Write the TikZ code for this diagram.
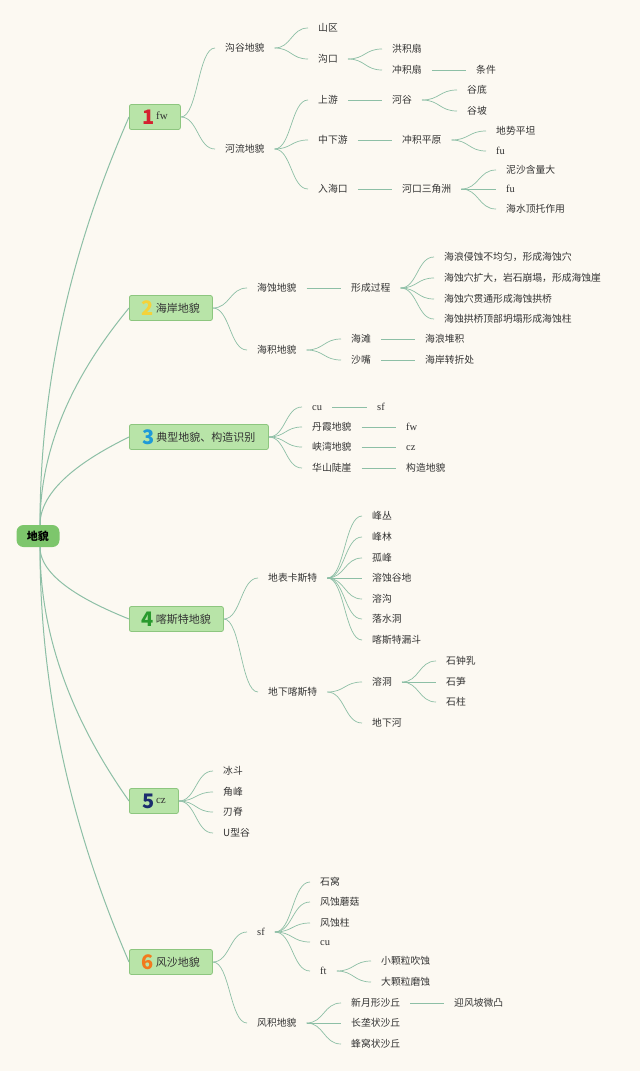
\documentclass[tikz,border=0pt]{standalone}
\usepackage{fontspec}
\setmainfont{Liberation Serif}
\newfontfamily\cjk{Noto Sans CJK SC}
\usetikzlibrary{calc}
\definecolor{bg}{HTML}{FCF9F2}
\definecolor{lc}{HTML}{8DBFA6}
\definecolor{tc}{HTML}{333333}
\definecolor{boxf}{HTML}{B8E4A8}
\definecolor{boxd}{HTML}{8DC67F}
\definecolor{rootf}{HTML}{7DC66C}
\definecolor{n1}{HTML}{D42230}
\definecolor{n2}{HTML}{F4D23A}
\definecolor{n3}{HTML}{1E9AD8}
\definecolor{n4}{HTML}{2A9A2E}
\definecolor{n5}{HTML}{1B2D6E}
\definecolor{n6}{HTML}{F27A1E}
\newcommand\nm[2]{{\cjk\bfseries\fontsize{20}{20}\selectfont\color{#1}#2}}
\newcommand\bt[1]{\raisebox{2.5pt}{#1}}
\newcommand\bl[1]{\raisebox{5pt}{\fontsize{11}{12}\selectfont\rmfamily #1}}
\newcommand\lk[2]{\draw[ln] let \p1=(#1.east), \p2=(#2.west), \n1={0.5*(\x2-\x1)} in (\p1) .. controls ({\x1+\n1},\y1) and ({\x2-\n1},\y2) .. (\p2);}
\newcommand\rl[2]{\draw[rln] let \p1=(#1), \p2=(#2.west) in (\p1) .. controls (\x1,{\y1+0.45*(\y2-\y1)}) and ({\x2-0.4*(\x2-\x1)},{\y2-0.2*(\y2-\y1)}) .. (\p2);}
\begin{document}
\begin{tikzpicture}[x=1pt,y=-1pt,
  t/.style={font=\cjk\fontsize{9.8}{12}\selectfont, text=tc, inner xsep=10pt, inner ysep=1pt, anchor=west, text height=8pt, text depth=0.4pt},
  lt/.style={t, font=\fontsize{10.5}{12}\selectfont},
  box/.style={draw=boxd, fill=boxf, line width=0.8pt, rounded corners=2pt, minimum height=25pt, inner xsep=0pt, inner ysep=0pt, anchor=west, font=\cjk\fontsize{11}{13}\selectfont, text=tc},
  root/.style={fill=rootf, rounded corners=7pt, minimum width=43pt, minimum height=22pt, inner sep=0pt, font=\cjk\bfseries\fontsize{11}{13}\selectfont, text=black},
  ln/.style={draw=lc, line width=0.7pt},
  rln/.style={draw=lc, line width=1pt}]
\useasboundingbox (0,0) rectangle (640,1071);
\fill[bg] (0,0) rectangle (640,1071);

% root and main boxes
\node[root] (R) at (38,536) {地貌};
\node[box, minimum width=51pt] (B1) at (129,117) {\nm{n1}{1}\,\bl{fw}};
\node[box, minimum width=83pt] (B2) at (129,308) {\nm{n2}{2}\,\bt{海岸地貌}};
\node[box, minimum width=139pt] (B3) at (129,437) {\nm{n3}{3}\,\bt{典型地貌、构造识别}};
\node[box, minimum width=94pt] (B4) at (129,619) {\nm{n4}{4}\,\bt{喀斯特地貌}};
\node[box, minimum width=49pt] (B5) at (129,801) {\nm{n5}{5}\,\bl{cz}};
\node[box, minimum width=83pt] (B6) at (129,962) {\nm{n6}{6}\,\bt{风沙地貌}};

\coordinate (Rt) at ([xshift=2pt]R.north);
\coordinate (Rb) at ([xshift=2pt]R.south);
\rl{Rt}{B1}\rl{Rt}{B2}\rl{Rt}{B3}
\rl{Rb}{B4}\rl{Rb}{B5}\rl{Rb}{B6}

% branch 1
\node[t] (a1) at (215,48) {沟谷地貌};
\node[t] (a11) at (308,28) {山区};
\node[t] (a12) at (308,59) {沟口};
\node[t] (a121) at (382,49) {洪积扇};
\node[t] (a122) at (382,70) {冲积扇};
\node[t] (a1221) at (466,70) {条件};
\node[t] (a2) at (215,149) {河流地貌};
\node[t] (a21) at (308,100) {上游};
\node[t] (a211) at (382,100) {河谷};
\node[t] (a2111) at (457,90) {谷底};
\node[t] (a2112) at (457,111) {谷坡};
\node[t] (a22) at (308,140) {中下游};
\node[t] (a221) at (392,140) {冲积平原};
\node[t] (a2211) at (486,131) {地势平坦};
\node[lt] (a2212) at (486,151) {fu};
\node[t] (a23) at (308,189) {入海口};
\node[t] (a231) at (392,189) {河口三角洲};
\node[t] (a2311) at (496,170) {泥沙含量大};
\node[lt] (a2312) at (496,189) {fu};
\node[t] (a2313) at (496,209) {海水顶托作用};
\lk{B1}{a1}\lk{B1}{a2}
\lk{a1}{a11}\lk{a1}{a12}\lk{a12}{a121}\lk{a12}{a122}\lk{a122}{a1221}
\lk{a2}{a21}\lk{a2}{a22}\lk{a2}{a23}
\lk{a21}{a211}\lk{a211}{a2111}\lk{a211}{a2112}
\lk{a22}{a221}\lk{a221}{a2211}\lk{a221}{a2212}
\lk{a23}{a231}\lk{a231}{a2311}\lk{a231}{a2312}\lk{a231}{a2313}

% branch 2
\node[t] (b1) at (247,288) {海蚀地貌};
\node[t] (b11) at (341,288) {形成过程};
\node[t] (b111) at (434,257) {海浪侵蚀不均匀，形成海蚀穴};
\node[t] (b112) at (434,278) {海蚀穴扩大，岩石崩塌，形成海蚀崖};
\node[t] (b113) at (434,299) {海蚀穴贯通形成海蚀拱桥};
\node[t] (b114) at (434,319) {海蚀拱桥顶部坍塌形成海蚀柱};
\node[t] (b2) at (247,350) {海积地貌};
\node[t] (b21) at (341,339) {海滩};
\node[t] (b211) at (415,339) {海浪堆积};
\node[t] (b22) at (341,360) {沙嘴};
\node[t] (b221) at (415,360) {海岸转折处};
\lk{B2}{b1}\lk{B2}{b2}
\lk{b1}{b11}\lk{b11}{b111}\lk{b11}{b112}\lk{b11}{b113}\lk{b11}{b114}
\lk{b2}{b21}\lk{b2}{b22}\lk{b21}{b211}\lk{b22}{b221}

% branch 3
\node[lt] (c1) at (302,407) {cu};
\node[lt] (c11) at (367,407) {sf};
\node[t] (c2) at (302,427) {丹霞地貌};
\node[lt] (c21) at (396,427) {fw};
\node[t] (c3) at (302,447) {峡湾地貌};
\node[lt] (c31) at (396,447) {cz};
\node[t] (c4) at (302,468) {华山陡崖};
\node[t] (c41) at (396,468) {构造地貌};
\lk{B3}{c1}\lk{B3}{c2}\lk{B3}{c3}\lk{B3}{c4}
\lk{c1}{c11}\lk{c2}{c21}\lk{c3}{c31}\lk{c4}{c41}

% branch 4
\node[t] (d1) at (258,578) {地表卡斯特};
\node[t] (d11) at (362,516) {峰丛};
\node[t] (d12) at (362,537) {峰林};
\node[t] (d13) at (362,558) {孤峰};
\node[t] (d14) at (362,578) {溶蚀谷地};
\node[t] (d15) at (362,599) {溶沟};
\node[t] (d16) at (362,619) {落水洞};
\node[t] (d17) at (362,640) {喀斯特漏斗};
\node[t] (d2) at (258,692) {地下喀斯特};
\node[t] (d21) at (362,682) {溶洞};
\node[t] (d211) at (436,661) {石钟乳};
\node[t] (d212) at (436,682) {石笋};
\node[t] (d213) at (436,702) {石柱};
\node[t] (d22) at (362,723) {地下河};
\lk{B4}{d1}\lk{B4}{d2}
\lk{d1}{d11}\lk{d1}{d12}\lk{d1}{d13}\lk{d1}{d14}\lk{d1}{d15}\lk{d1}{d16}\lk{d1}{d17}
\lk{d2}{d21}\lk{d2}{d22}\lk{d21}{d211}\lk{d21}{d212}\lk{d21}{d213}

% branch 5
\node[t] (e1) at (213,771) {冰斗};
\node[t] (e2) at (213,792) {角峰};
\node[t] (e3) at (213,812) {刃脊};
\node[t] (e4) at (213,833) {U型谷};
\lk{B5}{e1}\lk{B5}{e2}\lk{B5}{e3}\lk{B5}{e4}

% branch 6
\node[lt] (f1) at (247,932) {sf};
\node[t] (f11) at (310,882) {石窝};
\node[t] (f12) at (310,902) {风蚀蘑菇};
\node[t] (f13) at (310,923) {风蚀柱};
\node[lt] (f14) at (310,942) {cu};
\node[lt] (f15) at (310,971) {ft};
\node[t] (f151) at (371,961) {小颗粒吹蚀};
\node[t] (f152) at (371,982) {大颗粒磨蚀};
\node[t] (f2) at (247,1023) {风积地貌};
\node[t] (f21) at (341,1003) {新月形沙丘};
\node[t] (f211) at (444,1003) {迎风坡微凸};
\node[t] (f22) at (341,1023) {长垄状沙丘};
\node[t] (f23) at (341,1044) {蜂窝状沙丘};
\lk{B6}{f1}\lk{B6}{f2}
\lk{f1}{f11}\lk{f1}{f12}\lk{f1}{f13}\lk{f1}{f14}\lk{f1}{f15}
\lk{f15}{f151}\lk{f15}{f152}
\lk{f2}{f21}\lk{f2}{f22}\lk{f2}{f23}\lk{f21}{f211}
\end{tikzpicture}
\end{document}
